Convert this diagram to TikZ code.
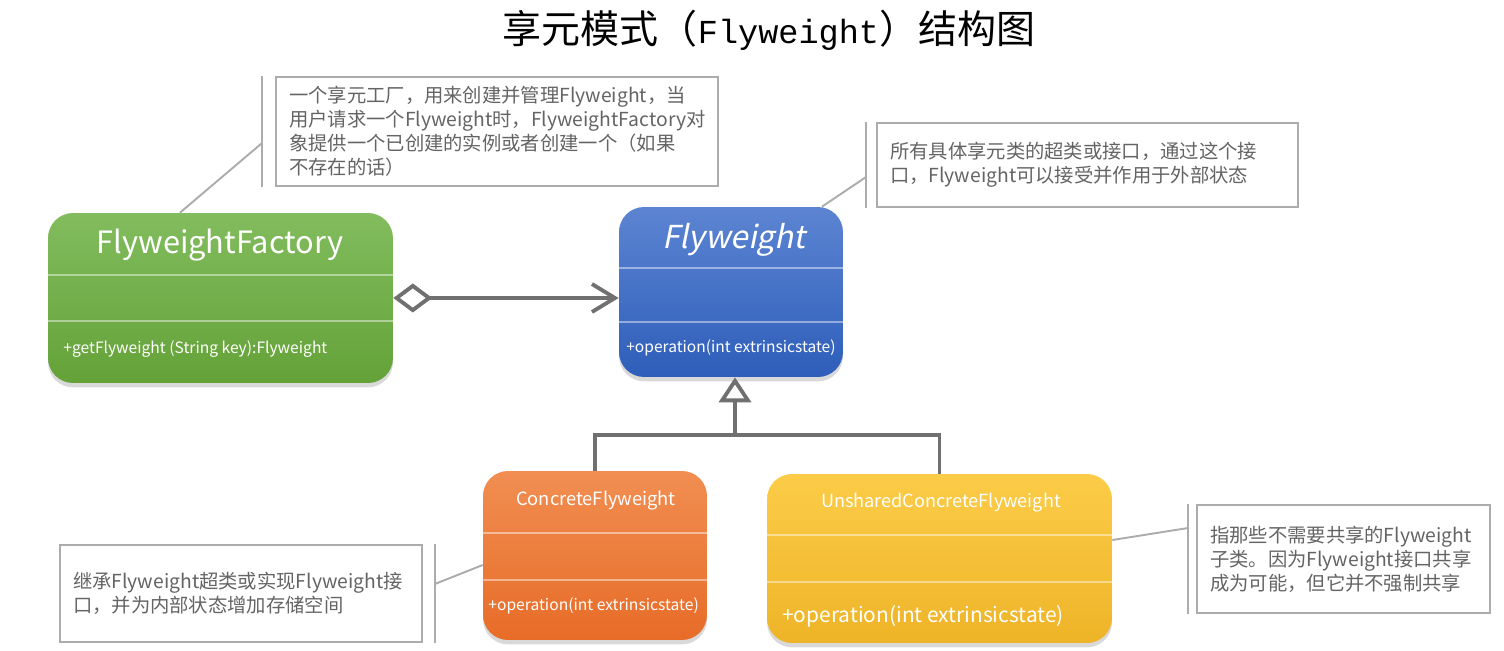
\documentclass[tikz,border=0pt]{standalone}
\usepackage{fontspec}
\setmainfont{Noto Sans CJK SC}[AutoFakeSlant=0.2]
\newfontfamily\titlemono{Liberation Mono}[Scale=0.86]
\usepackage{xcolor}
\definecolor{fwgreenT}{RGB}{130,188,94}
\definecolor{fwgreenB}{RGB}{100,162,56}
\definecolor{fwblueT}{RGB}{92,132,210}
\definecolor{fwblueB}{RGB}{46,94,186}
\definecolor{fworangeT}{RGB}{241,142,82}
\definecolor{fworangeB}{RGB}{231,108,40}
\definecolor{fwyellowT}{RGB}{252,204,72}
\definecolor{fwyellowB}{RGB}{238,180,40}
\definecolor{fwline}{RGB}{112,112,112}
\definecolor{fwnote}{RGB}{172,172,172}
\definecolor{fwtext}{RGB}{100,100,100}
\usetikzlibrary{arrows.meta,positioning,shadows}

\begin{document}
\begin{tikzpicture}[x=0.02cm, y=-0.02cm,
  clsbox/.style={rectangle, rounded corners=0.5cm, draw=none,
                 drop shadow={shadow xshift=0pt, shadow yshift=-2.5pt, opacity=0.3}},
  clsname/.style={text=white, inner sep=0pt},
  clsop/.style={text=white, inner sep=0pt, anchor=west},
  divider/.style={draw=white, opacity=0.45, line width=0.7pt},
  notebox/.style={rectangle, draw=fwnote, line width=1.1pt, fill=white,
                  text=fwtext, align=left, inner xsep=0.26cm,
                  font=\fontsize{11pt}{13.6pt}\selectfont},
  notebar/.style={draw=fwnote, line width=1.1pt},
  noteline/.style={draw=fwnote, line width=1.1pt},
  agg/.style={draw=fwline, line width=2.2pt,
              {Diamond[open, fill=white, length=0.78cm, width=0.58cm]}-{Straight Barb[length=0.46cm, width=0.56cm]}},
  gen/.style={draw=fwline, line width=2.2pt}
]
\useasboundingbox (0,0) rectangle (1504,651);

% Title
\node[font=\fontsize{22.2pt}{26pt}\selectfont] (title) at (769,30)
  {享元模式（{\titlemono Flyweight}）结构图};

% Class boxes
\node[clsbox, top color=fwgreenT, bottom color=fwgreenB,
      minimum width=6.9cm, minimum height=3.4cm] (fac) at (220.5,298) {};
\node[clsbox, top color=fwblueT, bottom color=fwblueB,
      minimum width=4.48cm, minimum height=3.4cm] (fly) at (731,292) {};
\node[clsbox, top color=fworangeT, bottom color=fworangeB,
      minimum width=4.48cm, minimum height=3.38cm] (con) at (595,555.5) {};
\node[clsbox, top color=fwyellowT, bottom color=fwyellowB,
      minimum width=6.9cm, minimum height=3.38cm] (uns) at (939.5,558.5) {};

% Compartment lines
\draw[divider] (fac.west |- 0,275) -- (fac.east |- 0,275);
\draw[divider] (fac.west |- 0,321) -- (fac.east |- 0,321);
\draw[divider] (fly.west |- 0,268) -- (fly.east |- 0,268);
\draw[divider] (fly.west |- 0,322) -- (fly.east |- 0,322);
\draw[divider] (con.west |- 0,533) -- (con.east |- 0,533);
\draw[divider] (con.west |- 0,580) -- (con.east |- 0,580);
\draw[divider] (uns.west |- 0,535) -- (uns.east |- 0,535);
\draw[divider] (uns.west |- 0,582) -- (uns.east |- 0,582);

% Class names and operations
\node[clsname, font=\fontsize{17.5pt}{20pt}\selectfont] (facname) at (220,245) {FlyweightFactory};
\node[clsname, font=\fontsize{18pt}{20pt}\itshape] (flyname) at (734,240) {Flyweight};
\node[clsname, font=\fontsize{10.4pt}{12pt}\selectfont] (conname) at (596,501) {ConcreteFlyweight};
\node[clsname, font=\fontsize{10.3pt}{12pt}\selectfont] (unsname) at (941,503) {UnsharedConcreteFlyweight};
\node[clsop, font=\fontsize{8.9pt}{11pt}\selectfont] (facop) at (63,349) {+getFlyweight (String key):Flyweight};
\node[clsop, font=\fontsize{8.85pt}{11pt}\selectfont] (flyop) at (626,348) {+operation(int extrinsicstate)};
\node[clsop, font=\fontsize{8.9pt}{11pt}\selectfont] (conop) at (488,606) {+operation(int extrinsicstate)};
\node[clsop, font=\fontsize{11.9pt}{14pt}\selectfont] (unsop) at (782,616) {+operation(int extrinsicstate)};

% Relations
\draw[agg] (fac.east) -- (fac.east -| fly.west);
\coordinate (hub) at (735,435);
\draw[gen] (con.north) |- (hub) -| (uns.north);
\draw[gen, -{Triangle[open, fill=white, length=0.5cm, width=0.64cm]}] (hub) -- (hub |- fly.south);

% Notes
\node[notebox, text width=8.32cm, minimum height=2.18cm] (n1) at (497,131.5)
  {一个享元工厂，用来创建并管理Flyweight，当\\用户请求一个Flyweight时，FlyweightFactory对\\象提供一个已创建的实例或者创建一个（如果\\不存在的话）};
\node[notebox, text width=7.9cm, minimum height=1.68cm] (n2) at (1087.5,165)
  {所有具体享元类的超类或接口，通过这个接\\口，Flyweight可以接受并作用于外部状态};
\node[notebox, text width=6.72cm, minimum height=1.94cm] (n3) at (241,593.5)
  {继承Flyweight超类或实现Flyweight接\\口，并为内部状态增加存储空间};
\node[notebox, text width=5.34cm, minimum height=2.16cm] (n4) at (1343.5,559)
  {指那些不需要共享的Flyweight\\子类。因为Flyweight接口共享\\成为可能，但它并不强制共享};

% Note bars and links
\draw[notebar] ([xshift=-0.26cm]n1.north west) -- ([xshift=-0.26cm]n1.south west);
\draw[notebar] ([xshift=-0.2cm]n2.north west) -- ([xshift=-0.2cm]n2.south west);
\draw[notebar] ([xshift=0.24cm]n3.north east) -- ([xshift=0.24cm]n3.south east);
\draw[notebar] ([xshift=-0.16cm]n4.north west) -- ([xshift=-0.16cm]n4.south west);
\draw[noteline] ([xshift=-0.81cm]fac.north) -- ([xshift=-0.26cm, yshift=-0.23cm]n1.west);
\draw[noteline] ([xshift=1.82cm]fly.north) -- ([xshift=-0.2cm, yshift=-0.24cm]n2.west);
\draw[noteline] ([yshift=-0.19cm]con.west) -- ([xshift=0.24cm, yshift=0.19cm]n3.east);
\draw[noteline] ([yshift=0.37cm]uns.east) -- ([xshift=-0.16cm, yshift=0.62cm]n4.west);
\end{tikzpicture}
\end{document}
